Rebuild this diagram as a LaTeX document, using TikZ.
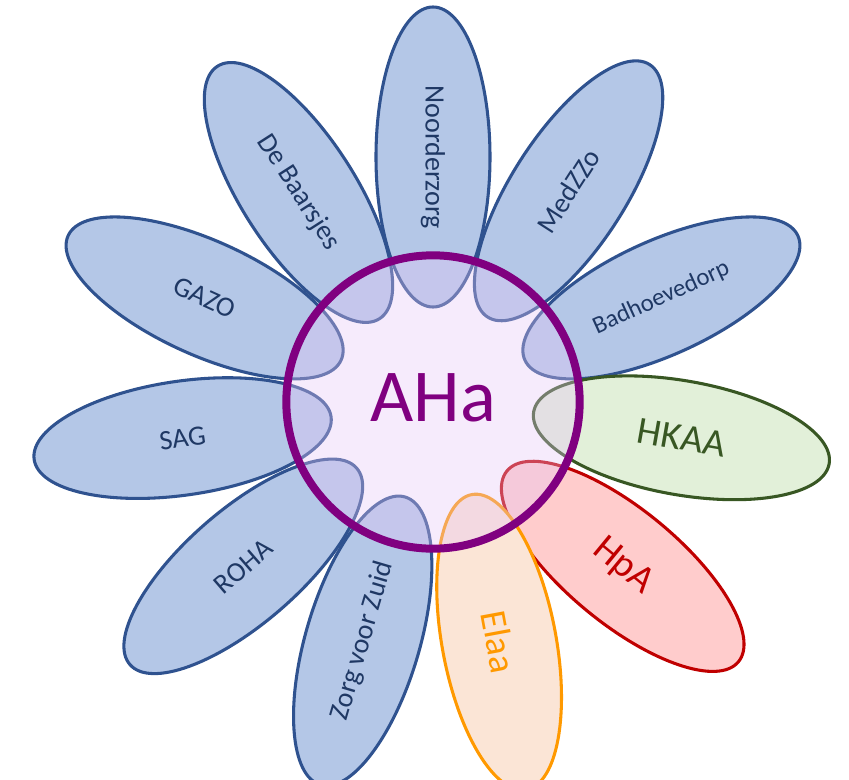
\documentclass[tikz,border=0pt]{standalone}
\usepackage{fontspec}
\setmainfont{Carlito}
\usetikzlibrary{shapes.geometric}
\definecolor{petalblue}{HTML}{B4C7E7}
\definecolor{edgeblue}{HTML}{2F528F}
\definecolor{textblue}{HTML}{1F3864}
\definecolor{ahapurple}{HTML}{800080}
\definecolor{ahafill}{HTML}{E5C5F6}
\definecolor{leafgreen}{HTML}{E2F0D9}
\definecolor{darkgreen}{HTML}{385723}
\definecolor{rosered}{HTML}{FFCCCC}
\definecolor{darkred}{HTML}{C00000}
\definecolor{peach}{HTML}{FBE5D6}
\definecolor{brightorange}{HTML}{FF9900}
\tikzset{
  petal/.style={ellipse, draw, line width=2.3pt, inner sep=0pt,
                minimum width=225pt, minimum height=85.5pt},
  bluepetal/.style={petal, fill=petalblue, draw=edgeblue, text=textblue,
                    font=\fontsize{21}{21}\selectfont},
  bluesmall/.style={bluepetal, font=\fontsize{18.5}{18.5}\selectfont},
  greenpetal/.style={petal, fill=leafgreen, draw=darkgreen, text=darkgreen,
                     font=\fontsize{29}{29}\selectfont},
  redpetal/.style={petal, fill=rosered, draw=darkred, text=darkred,
                   font=\fontsize{29}{29}\selectfont},
  orangepetal/.style={petal, fill=peach, draw=brightorange, text=brightorange,
                      font=\fontsize{28}{28}\selectfont},
  hub/.style={circle, draw=ahapurple, line width=6pt, fill=ahafill,
              fill opacity=0.35, minimum size=220pt, inner sep=0pt},
  ahatext/.style={text=ahapurple, font=\fontsize{56}{56}\selectfont, inner sep=0pt}
}
\begin{document}
\begin{tikzpicture}[x=0.75pt, y=0.75pt]
  \useasboundingbox (-433,-377) rectangle (416,402);
  \foreach \i/\ang/\dist/\rot/\lbl/\sty in {
    1/90/245/-90/{Noorderzorg}/bluepetal,
    2/57.3/251/57.3/{MedZZo}/bluepetal,
    3/24.5/251/24.5/{Badhoevedorp}/bluesmall,
    4/-8.2/251/-10/{HKAA}/greenpetal,
    5/-40.9/251/-39.5/{HpA}/redpetal,
    6/-74.6/249/-79.5/{Elaa}/orangepetal,
    7/-106.4/249/73.6/{Zorg voor Zuid}/bluepetal,
    8/-139.1/251/40.9/{ROHA}/bluepetal,
    9/-171.8/253/8.2/{SAG}/bluepetal,
    10/155.5/251/-24.5/{GAZO}/bluepetal,
    11/122.7/249/-57.3/{De Baarsjes}/bluepetal}{
    \node[\sty, rotate=\rot] (petal\i) at (\ang:\dist) {\lbl};
  }
  \node[hub] (hub) at (0,0) {};
  \node[ahatext] (ahalabel) at ([yshift=3.5pt]hub.center) {AHa};
\end{tikzpicture}
\end{document}
